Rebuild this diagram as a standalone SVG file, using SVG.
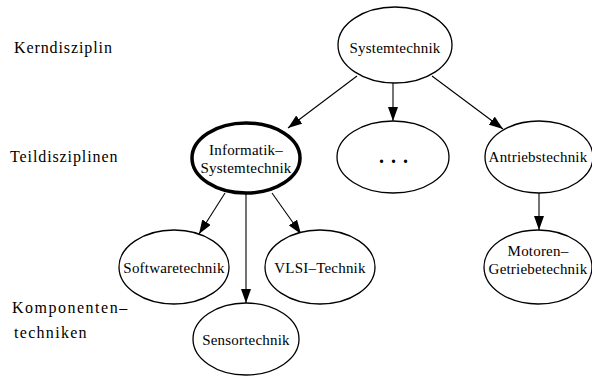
<svg xmlns="http://www.w3.org/2000/svg" width="592" height="377" viewBox="0 0 592 377">
<defs>
<marker id="ah" markerWidth="14" markerHeight="10" refX="14" refY="5" orient="auto" markerUnits="userSpaceOnUse">
<path d="M0,0 L14,5 L0,10 Z" fill="#000"/>
</marker>
<style>
.n{fill:#fff;stroke:#000;stroke-width:1.3}
.b{stroke-width:3.5}
.t{font-family:"Liberation Serif","Times New Roman",serif;font-size:15px;letter-spacing:0.2px;text-anchor:middle;fill:#000}
.l{font-family:"Liberation Serif","Times New Roman",serif;font-size:16px;letter-spacing:0.9px;fill:#000}
.e{fill:none;stroke:#000;stroke-width:1.1;marker-end:url(#ah)}
</style>
</defs>
<rect width="592" height="377" fill="#fff"/>
<g id="labels">
<text class="l" x="14" y="53">Kerndisziplin</text>
<text class="l" x="10" y="162">Teildisziplinen</text>
<text class="l" x="12" y="313" style="letter-spacing:1.5px">Komponenten–</text>
<text class="l" x="14" y="338" style="letter-spacing:1.3px">techniken</text>
</g>
<g id="edges">
<line class="e" x1="357" y1="76" x2="288" y2="128"/>
<line class="e" x1="393" y1="83" x2="393" y2="121"/>
<line class="e" x1="432" y1="76" x2="503" y2="129"/>
<line class="e" x1="225" y1="193" x2="199" y2="234"/>
<line class="e" x1="246" y1="194" x2="246" y2="303"/>
<line class="e" x1="272" y1="193" x2="301" y2="234"/>
<line class="e" x1="539" y1="193" x2="539" y2="230"/>
</g>
<g id="systemtechnik">
<ellipse class="n" cx="395" cy="45" rx="57" ry="38"/>
<text class="t" x="395" y="53">Systemtechnik</text>
</g>
<g id="informatik">
<ellipse class="n b" cx="246" cy="158" rx="54" ry="35"/>
<text class="t" x="246" y="155">Informatik–</text>
<text class="t" x="246" y="173">Systemtechnik</text>
</g>
<g id="dots">
<ellipse class="n" cx="393" cy="157" rx="56" ry="36"/>
<text class="t" x="397" y="163" style="font-size:20px;font-weight:bold;letter-spacing:7px">...</text>
</g>
<g id="antriebstechnik">
<ellipse class="n" cx="539" cy="157" rx="54" ry="36"/>
<text class="t" x="538" y="162">Antriebstechnik</text>
</g>
<g id="softwaretechnik">
<ellipse class="n" cx="174" cy="267" rx="55" ry="37"/>
<text class="t" x="174" y="273">Softwaretechnik</text>
</g>
<g id="vlsi">
<ellipse class="n" cx="320" cy="267" rx="55" ry="37"/>
<text class="t" x="320" y="273">VLSI–Technik</text>
</g>
<g id="sensortechnik">
<ellipse class="n" cx="246" cy="339" rx="53" ry="36"/>
<text class="t" x="246" y="345">Sensortechnik</text>
</g>
<g id="motoren">
<ellipse class="n" cx="538" cy="267" rx="54" ry="37"/>
<text class="t" x="538" y="256">Motoren–</text>
<text class="t" x="538" y="274">Getriebetechnik</text>
</g>
</svg>
